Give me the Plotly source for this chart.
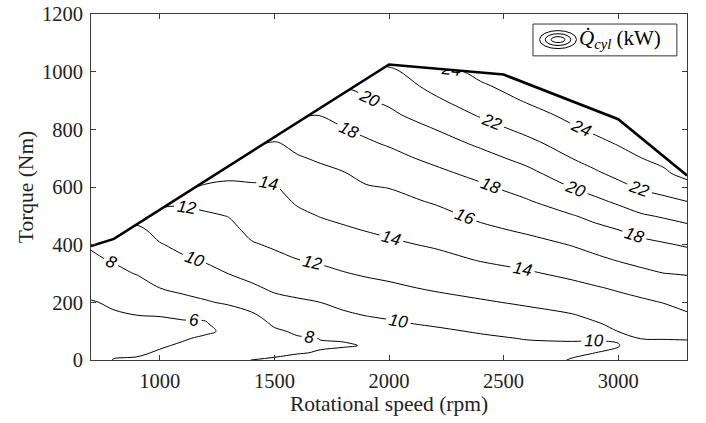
import plotly.graph_objects as go

# ---- data ----
speed_rpm = [700, 800, 900, 1000, 1100, 1200, 1300, 1400, 1500, 1600, 1700, 1800,
             1900, 2000, 2200, 2400, 2600, 2800, 2900, 3000, 3100, 3200, 3300]
torque_nm = [0, 25, 50, 75, 100, 125, 150, 200, 250, 300, 350, 400, 450, 500,
             550, 600, 650, 700, 750, 800, 850, 900, 950, 1000, 1050]

# full-load torque at each grid speed (top of the mapped area)
full_load_at_speed = [395, 420, 470, 520, 571, 622, 672, 722, 773, 823, 874, 924,
                      974, 1025, 1011, 997, 959, 897, 866, 835, 770, 705, 640]

# Q_cyl (kW): one list per speed (bottom -> top of torque_nm); values past the
# full-load curve are held at the value at the curve
q_700 = [5.5, 5.3, 5.2, 5.1, 5.1, 5.2, 5.45, 5.9, 6.52, 7.13, 7.74, 8.22, 8.22, 8.22, 8.22, 8.22, 8.22, 8.22, 8.22, 8.22, 8.22, 8.22, 8.22, 8.22, 8.22]
q_800 = [6.05, 5.8, 5.65, 5.55, 5.55, 5.65, 5.8, 6.2, 6.91, 7.59, 8.17, 8.6, 9.03, 9.03, 9.03, 9.03, 9.03, 9.03, 9.03, 9.03, 9.03, 9.03, 9.03, 9.03, 9.03]
q_900 = [6.08, 5.9, 5.78, 5.7, 5.7, 5.77, 5.92, 6.55, 7.25, 8.08, 8.6, 9.12, 9.64, 10.16, 10.16, 10.16, 10.16, 10.16, 10.16, 10.16, 10.16, 10.16, 10.16, 10.16, 10.16]
q_1000 = [6.2, 6.07, 5.93, 5.8, 5.78, 5.86, 5.99, 6.99, 8.0, 8.63, 9.26, 9.89, 10.54, 11.2, 11.87, 11.87, 11.87, 11.87, 11.87, 11.87, 11.87, 11.87, 11.87, 11.87, 11.87]
q_1100 = [6.4, 6.25, 6.08, 5.94, 5.85, 5.9, 6.07, 7.45, 8.41, 9.1, 9.8, 10.41, 10.99, 11.56, 12.29, 13.5, 13.5, 13.5, 13.5, 13.5, 13.5, 13.5, 13.5, 13.5, 13.5]
q_1200 = [6.7, 6.5, 6.3, 6.1, 5.9, 5.93, 6.1, 7.85, 8.71, 9.5, 10.19, 10.71, 11.23, 11.75, 12.56, 13.63, 14.7, 14.7, 14.7, 14.7, 14.7, 14.7, 14.7, 14.7, 14.7]
q_1300 = [7.1, 6.85, 6.6, 6.4, 6.12, 6.4, 7.0, 8.22, 9.12, 10.02, 10.52, 11.03, 11.53, 12.05, 12.89, 13.72, 14.4, 15.0, 15.0, 15.0, 15.0, 15.0, 15.0, 15.0, 15.0]
q_1400 = [8.03, 7.5, 7.0, 6.8, 6.85, 7.1, 7.6, 8.72, 9.72, 10.49, 11.17, 11.85, 12.38, 12.86, 13.35, 13.83, 14.38, 14.96, 15.54, 15.54, 15.54, 15.54, 15.54, 15.54, 15.54]
q_1500 = [8.15, 7.75, 7.35, 7.3, 7.75, 8.24, 8.66, 9.5, 10.27, 10.96, 11.64, 12.2, 12.61, 13.03, 13.44, 13.86, 14.46, 15.15, 15.85, 16.5, 16.5, 16.5, 16.5, 16.5, 16.5]
q_1600 = [8.25, 7.95, 7.75, 7.85, 8.24, 8.63, 9.0, 9.77, 10.52, 11.26, 12.0, 12.55, 13.09, 13.64, 14.19, 14.74, 15.29, 15.85, 16.41, 16.98, 17.55, 17.55, 17.55, 17.55, 17.55]
q_1700 = [8.3, 8.05, 7.93, 8.02, 8.41, 8.81, 9.21, 10.0, 10.78, 11.56, 12.27, 12.87, 13.47, 14.06, 14.59, 15.12, 15.64, 16.2, 16.81, 17.43, 18.05, 18.7, 18.7, 18.7, 18.7]
q_1800 = [8.35, 8.15, 7.95, 8.05, 8.55, 9.05, 9.6, 10.44, 11.18, 11.91, 12.54, 13.16, 13.78, 14.34, 14.87, 15.4, 15.94, 16.59, 17.25, 17.92, 18.52, 19.11, 19.7, 19.7, 19.7]
q_1900 = [8.5, 8.3, 8.03, 8.35, 8.8, 9.4, 9.95, 10.71, 11.46, 12.18, 12.8, 13.43, 14.05, 14.66, 15.28, 15.89, 16.5, 17.11, 17.72, 18.39, 19.12, 19.85, 20.47, 21.06, 21.06]
q_2000 = [8.65, 8.45, 8.3, 8.5, 9.1, 9.7, 10.17, 10.93, 11.69, 12.39, 13.05, 13.7, 14.31, 14.89, 15.47, 16.06, 16.76, 17.45, 18.16, 18.9, 19.63, 20.32, 20.97, 21.61, 22.26]
q_2200 = [9.0, 8.8, 8.65, 8.9, 9.65, 10.22, 10.62, 11.42, 12.19, 12.85, 13.52, 14.18, 14.83, 15.48, 16.15, 16.89, 17.63, 18.4, 19.2, 20.0, 20.86, 21.72, 22.49, 23.22, 23.94]
q_2400 = [9.4, 9.2, 9.1, 9.65, 10.2, 10.6, 11.01, 11.82, 12.6, 13.37, 14.13, 14.87, 15.61, 16.34, 17.03, 17.73, 18.53, 19.4, 20.29, 21.25, 22.18, 22.99, 23.8, 24.5, 24.5]
q_2600 = [9.7, 9.55, 9.6, 10.1, 10.53, 10.96, 11.38, 12.22, 13.0, 13.8, 14.6, 15.41, 16.23, 17.03, 17.84, 18.7, 19.58, 20.51, 21.49, 22.43, 23.32, 24.15, 24.7, 25.2, 25.2]
q_2800 = [10.05, 9.88, 9.82, 10.13, 10.69, 11.24, 11.8, 12.69, 13.53, 14.38, 15.23, 16.09, 17.0, 17.91, 18.99, 20.08, 21.06, 22.03, 22.88, 23.73, 24.5, 25.0, 25.0, 25.0, 25.0]
q_2900 = [10.25, 10.0, 9.9, 10.05, 11.0, 11.81, 12.3, 13.08, 13.86, 14.76, 15.69, 16.59, 17.5, 18.49, 19.62, 20.72, 21.8, 22.69, 23.53, 24.3, 24.8, 25.2, 25.2, 25.2, 25.2]
q_3000 = [10.7, 10.35, 9.9, 10.2, 12.06, 12.4, 12.75, 13.44, 14.2, 15.18, 16.15, 17.05, 17.96, 19.12, 20.29, 21.51, 22.5, 23.34, 24.1, 24.6, 25.0, 25.0, 25.0, 25.0, 25.0]
q_3100 = [11.0, 11.15, 11.4, 12.07, 12.4, 12.73, 13.06, 13.72, 14.59, 15.6, 16.56, 17.48, 18.54, 19.78, 21.06, 22.24, 23.11, 23.98, 24.6, 25.0, 25.0, 25.0, 25.0, 25.0, 25.0]
q_3200 = [11.2, 11.3, 11.5, 12.08, 12.47, 12.87, 13.26, 14.06, 15.02, 15.98, 16.9, 17.82, 18.98, 20.21, 21.53, 22.7, 23.78, 24.5, 25.0, 25.0, 25.0, 25.0, 25.0, 25.0, 25.0]
q_3300 = [11.3, 11.45, 11.65, 12.1, 12.63, 13.16, 13.68, 14.54, 15.31, 16.1, 17.13, 18.19, 19.4, 20.67, 22.0, 23.49, 24.5, 24.5, 24.5, 24.5, 24.5, 24.5, 24.5, 24.5, 24.5]

q_cyl_kw = [q_700, q_800, q_900, q_1000, q_1100, q_1200, q_1300, q_1400, q_1500,
            q_1600, q_1700, q_1800, q_1900, q_2000, q_2200, q_2400, q_2600, q_2800,
            q_2900, q_3000, q_3100, q_3200, q_3300]

# full-load torque curve
full_load_speed = [700, 800, 2000, 2500, 3000, 3300]
full_load_torque = [395, 420, 1025, 990, 835, 640]

# contour levels drawn: 6, 8, ..., 24 (the range starts well below the data so
# that plotly spaces the inline labels more densely, as in the reference)
level_start, level_end, level_step = -146, 24, 2

x_ticks = [1000, 1500, 2000, 2500, 3000]
y_ticks = [0, 200, 400, 600, 800, 1000, 1200]

SERIF = "Liberation Serif"
TXT = "#222222"

# carpet grid (rows = torque index, columns = speed index); the top rows rest
# on the full-load curve so the map ends exactly there
grid_x = [[s for s in speed_rpm] for t in torque_nm]
grid_y = [[min(t, cap) for cap in full_load_at_speed] for t in torque_nm]
# z arranged the same way as the grid (rows = torque, columns = speed)
z_rows = [list(row) for row in zip(*q_cyl_kw)]

hidden_axis = dict(showgrid=False, showline=False, showticklabels="none",
                   startline=False, endline=False, minorgridcount=0,
                   title=dict(text=""))

fig = go.Figure()

fig.add_trace(go.Carpet(
    carpet="map", a=speed_rpm, b=torque_nm, x=grid_x, y=grid_y,
    aaxis=hidden_axis, baxis=hidden_axis,
))

fig.add_trace(go.Contourcarpet(
    carpet="map", a=speed_rpm, b=torque_nm, z=z_rows,
    autocontour=False,
    contours=dict(start=level_start, end=level_end, size=level_step,
                  coloring="lines", showlabels=True,
                  labelfont=dict(family="Liberation Sans", size=17, color="black",
                                 style="italic")),
    colorscale=[[0, "black"], [1, "black"]],
    line=dict(color="black", width=1),
    showscale=False,
))

fig.add_trace(go.Scatter(
    x=full_load_speed, y=full_load_torque, mode="lines",
    line=dict(color="black", width=2.6), hoverinfo="skip", showlegend=False,
))

axis_common = dict(
    showline=True, linecolor="#3a3a3a", linewidth=1, mirror="ticks",
    ticks="inside", ticklen=5, tickcolor="#3a3a3a", tickwidth=1,
    showgrid=False, zeroline=False, automargin=False, visible=True,
    tickfont=dict(family=SERIF, size=20.5, color=TXT),
)

fig.update_xaxes(range=[700, 3300], tickvals=x_ticks, **axis_common,
                 ticklabelstandoff=2,
                 title=dict(text="Rotational speed (rpm)",
                            font=dict(family=SERIF, size=21.5, color=TXT),
                            standoff=4))
fig.update_yaxes(range=[0, 1200], tickvals=y_ticks, **axis_common,
                 ticklabelstandoff=3,
                 title=dict(text="Torque (Nm)",
                            font=dict(family=SERIF, size=21.5, color=TXT),
                            standoff=2))

# legend box (manual)
shapes = [
    dict(type="rect", xref="paper", yref="paper", x0=0.7416, x1=0.983, y0=0.879, y1=0.971,
         line=dict(color="#333", width=1), fillcolor="white", layer="above"),
]
cx, cy = 0.7836, 0.926
for w, h in [(0.031, 0.026), (0.0215, 0.017), (0.0115, 0.0085)]:
    shapes.append(dict(type="circle", xref="paper", yref="paper",
                       x0=cx - w, x1=cx + w, y0=cy - h, y1=cy + h,
                       line=dict(color="black", width=1), layer="above"))

fig.update_layout(
    width=706, height=423,
    margin=dict(l=91, r=19, t=14, b=63, autoexpand=False),
    plot_bgcolor="white", paper_bgcolor="white",
    showlegend=False,
    shapes=shapes,
    annotations=[dict(
        xref="paper", yref="paper", x=0.816, y=0.928, xanchor="left", yanchor="middle",
        text="<i>Q\u0307</i><sub><i>cyl</i></sub> (kW)", showarrow=False,
        font=dict(family=SERIF, size=21, color="black"),
    )],
)

fig.write_html("out.html", config={"displayModeBar": False},
               post_script="document.body.style.margin='0';")
